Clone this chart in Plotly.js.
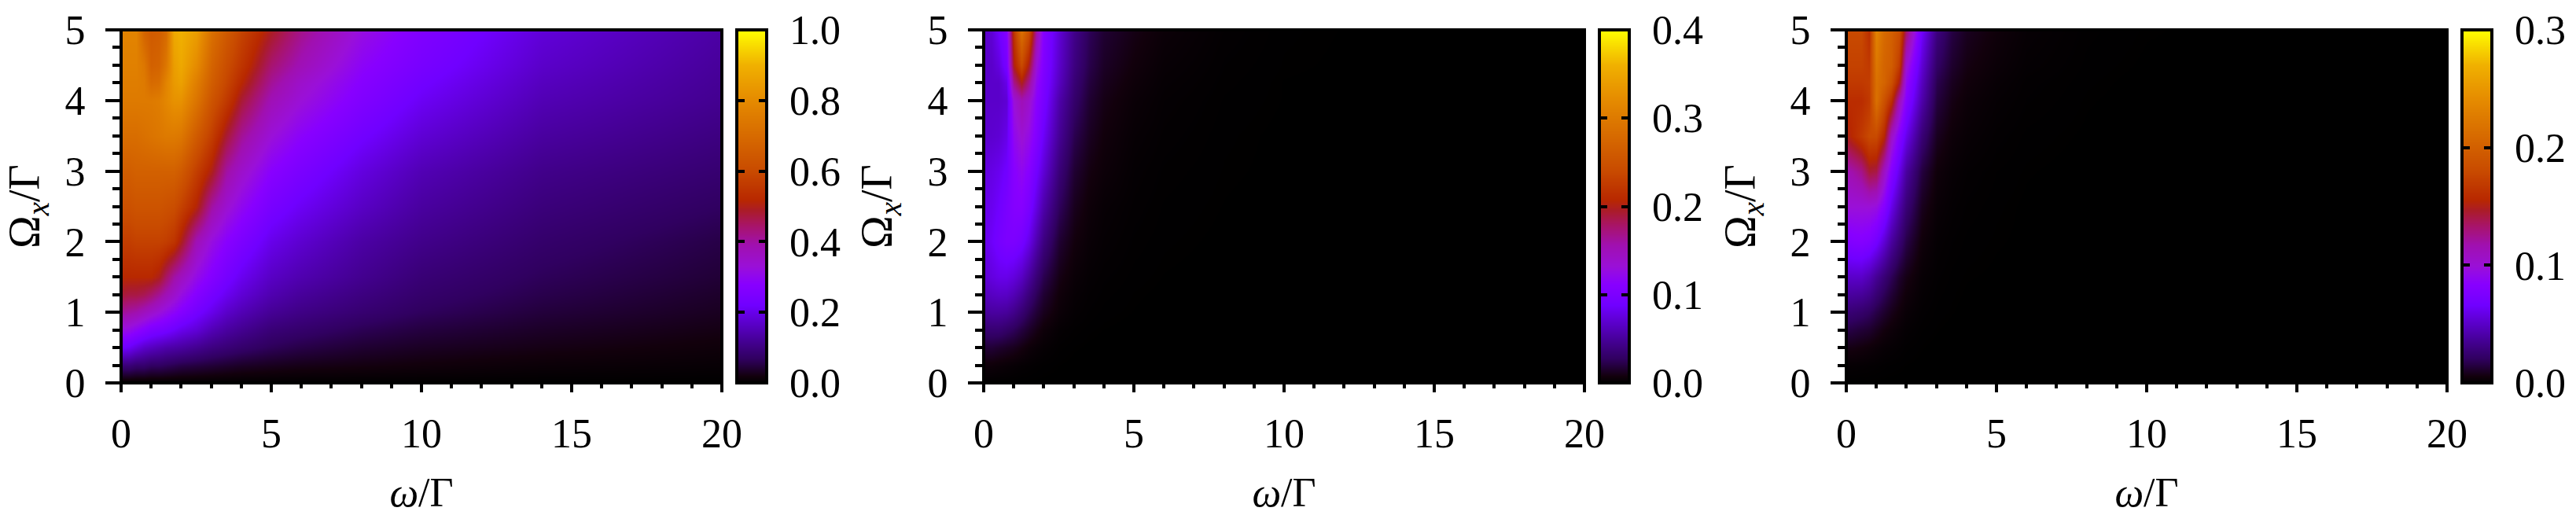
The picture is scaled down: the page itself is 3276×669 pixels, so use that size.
<!DOCTYPE html>
<html>
<head>
<meta charset="utf-8">
<script src="https://cdn.plot.ly/plotly-3.0.1.min.js"></script>
<style>
    html, body { margin: 0; padding: 0; background: white; }
</style>
</head>
<body>
<div id="chart" style="width:3276px;height:669px;"></div>
<script>
// grid the maps are sampled on
const omegaVals = [0, 0.25, 0.5, 0.75, 1, 1.25, 1.5, 1.75, 2, 2.5, 3, 3.5, 4, 5, 6, 8, 10, 14, 20];
const rabiVals = [0, 0.25, 0.5, 0.75, 1, 1.25, 1.5, 2, 2.5, 3, 3.5, 4, 4.25, 4.5, 5];

// left panel, rows run from rabi = 0 up to rabi = 5
const panel1Z = [
    [0, 0, 0, 0, 0, 0, 0, 0, 0, 0, 0, 0, 0, 0, 0, 0, 0, 0, 0],
    [.09, .09, .08, .08, .07, .07, .065, .06, .055, .05, .045, .04, .035, .03, .026, .022, .018, .012, .008],
    [.22, .21, .19, .17, .16, .15, .14, .135, .13, .115, .10, .09, .08, .065, .055, .042, .034, .025, .016],
    [.32, .31, .29, .27, .25, .24, .23, .215, .20, .18, .15, .13, .115, .09, .08, .062, .05, .036, .024],
    [.41, .40, .39, .37, .35, .33, .31, .29, .27, .23, .20, .17, .15, .12, .105, .085, .068, .048, .032],
    [.48, .47, .47, .46, .44, .41, .38, .35, .32, .27, .235, .205, .18, .145, .125, .10, .08, .058, .038],
    [.52, .52, .52, .52, .52, .50, .45, .40, .37, .31, .27, .235, .205, .165, .145, .115, .09, .066, .045],
    [.57, .57, .58, .58, .58, .58, .57, .55, .50, .38, .32, .28, .25, .20, .175, .135, .11, .08, .055],
    [.62, .62, .63, .63, .63, .63, .62, .61, .58, .51, .40, .34, .30, .24, .21, .165, .13, .095, .07],
    [.66, .66, .67, .67, .67, .67, .67, .67, .65, .57, .50, .40, .35, .28, .245, .19, .15, .11, .085],
    [.71, .71, .71, .72, .73, .74, .75, .75, .74, .65, .57, .48, .41, .33, .285, .225, .18, .13, .10],
    [.75, .75, .75, .75, .75, .76, .79, .82, .82, .73, .63, .56, .48, .38, .33, .26, .21, .15, .115],
    [.76, .76, .76, .75, .70, .71, .78, .84, .86, .76, .66, .59, .52, .41, .35, .275, .225, .16, .12],
    [.77, .77, .77, .74, .67, .68, .74, .85, .88, .80, .68, .61, .55, .44, .38, .29, .24, .17, .125],
    [.78, .78, .78, .68, .65, .66, .70, .88, .90, .85, .72, .65, .585, .495, .42, .32, .26, .185, .135]
];

// middle panel
const panel2Z = [
    [0, 0, 0, 0, 0, 0, 0, 0, 0, 0, 0, 0, 0, 0, 0, 0, 0, 0, 0],
    [.006, .006, .005, .004, .003, .002, .0015, .001, .0006, .0002, 0, 0, 0, 0, 0, 0, 0, 0, 0],
    [.018, .018, .016, .014, .012, .009, .006, .004, .0025, .0008, .0003, .0001, 0, 0, 0, 0, 0, 0, 0],
    [.034, .034, .034, .03, .026, .02, .015, .01, .006, .002, .0009, .0004, .0002, 0, 0, 0, 0, 0, 0],
    [.05, .052, .052, .05, .044, .035, .026, .018, .012, .005, .002, .001, .0005, .0002, 0, 0, 0, 0, 0],
    [.062, .065, .067, .066, .06, .05, .038, .026, .017, .007, .003, .0015, .0008, .0003, .0001, 0, 0, 0, 0],
    [.072, .076, .08, .08, .075, .066, .052, .036, .024, .01, .0045, .0022, .0012, .0005, .0002, 0, 0, 0, 0],
    [.08, .086, .094, .1, .1, .094, .08, .058, .04, .017, .008, .004, .0022, .0009, .0004, .0001, 0, 0, 0],
    [.08, .082, .088, .098, .108, .11, .098, .076, .056, .027, .012, .006, .0032, .0014, .0006, .0002, 0, 0, 0],
    [.076, .078, .082, .09, .11, .12, .11, .09, .072, .037, .017, .009, .0055, .002, .0009, .0003, .0001, 0, 0],
    [.07, .07, .072, .08, .12, .135, .125, .105, .085, .048, .024, .013, .0075, .003, .0014, .0004, .0001, 0, 0],
    [.068, .068, .068, .072, .132, .152, .14, .112, .096, .056, .032, .017, .01, .0045, .002, .0006, .0002, 0, 0],
    [.068, .068, .068, .08, .168, .2, .168, .12, .1, .064, .036, .02, .012, .006, .0026, .0008, .0002, 0, 0],
    [.068, .068, .076, .096, .2, .24, .2, .132, .104, .068, .04, .023, .014, .0075, .0034, .001, .0003, 0, 0],
    [.068, .072, .088, .108, .22, .29, .25, .16, .108, .072, .044, .026, .017, .01, .005, .0015, .0004, 0, 0]
];

// right panel
const panel3Z = [
    [0, 0, 0, 0, 0, 0, 0, 0, 0, 0, 0, 0, 0, 0, 0, 0, 0, 0, 0],
    [.0018, .0017, .0015, .0012, .0009, .0006, .0004, .0003, .00015, 0, 0, 0, 0, 0, 0, 0, 0, 0, 0],
    [.0075, .0069, .006, .0048, .0036, .0024, .0018, .0012, .0006, .0002, 0, 0, 0, 0, 0, 0, 0, 0, 0],
    [.0165, .015, .0135, .012, .009, .006, .0042, .0027, .0015, .0005, .0002, 0, 0, 0, 0, 0, 0, 0, 0],
    [.027, .0255, .024, .021, .0165, .012, .0084, .0054, .003, .001, .0004, .0002, 0, 0, 0, 0, 0, 0, 0],
    [.039, .038, .037, .033, .026, .019, .0135, .0085, .005, .0016, .0006, .0003, .0001, 0, 0, 0, 0, 0, 0],
    [.051, .051, .051, .045, .036, .027, .0195, .012, .0075, .0023, .0009, .0004, .0002, .0001, 0, 0, 0, 0, 0],
    [.078, .08, .081, .078, .069, .054, .039, .027, .0165, .005, .0016, .0008, .0004, .0002, .0001, 0, 0, 0, 0],
    [.099, .099, .099, .099, .096, .081, .06, .042, .027, .009, .003, .0014, .0007, .0003, .0001, 0, 0, 0, 0],
    [.114, .12, .126, .144, .141, .108, .081, .06, .039, .015, .005, .0024, .0012, .0005, .0002, 0, 0, 0, 0],
    [.15, .159, .168, .18, .18, .156, .108, .081, .06, .027, .0095, .0045, .0025, .001, .0004, .0001, 0, 0, 0],
    [.159, .159, .159, .168, .216, .186, .162, .114, .081, .042, .015, .0075, .004, .0018, .0008, .0002, 0, 0, 0],
    [.168, .168, .168, .171, .216, .204, .186, .15, .09, .048, .018, .0095, .0055, .0025, .001, .0003, 0, 0, 0],
    [.174, .174, .174, .168, .222, .204, .198, .17, .102, .054, .0225, .012, .007, .0035, .0015, .0004, .0001, 0, 0],
    [.18, .18, .18, .16, .234, .21, .2, .186, .135, .066, .03, .016, .0095, .005, .0022, .0006, .0002, 0, 0]
];

const xTicks = [0, 5, 10, 15, 20];
const yTicks = [0, 1, 2, 3, 4, 5];

// colour bar ranges and labels per panel
const barMax = [1.0, 0.4, 0.3];
const barTicks = [
    [0, 0.2, 0.4, 0.6, 0.8, 1.0],
    [0, 0.1, 0.2, 0.3, 0.4],
    [0, 0.1, 0.2, 0.3]
];
const barFractions = [0, 0.05, 0.1, 0.15, 0.2, 0.25, 0.3, 0.35, 0.4, 0.45, 0.5, 0.55, 0.6, 0.65, 0.7, 0.75, 0.8, 0.85, 0.9, 0.95, 1];

const palette = [
    [0, "#000000"], [0.02, "#12000c"], [0.07, "#300060"], [0.146, "#5000b0"],
    [0.22, "#7000ff"], [0.28, "#8800ff"], [0.33, "#9a10d8"], [0.39, "#a010b0"],
    [0.445, "#a8146a"], [0.49, "#aa1c28"], [0.52, "#b82800"], [0.6, "#c84a00"],
    [0.8, "#e58a00"], [0.9, "#f0b000"], [1, "#ffff00"]
];

// pixel boxes: map left/right and colour bar left/right
const W = 3276, H = 669;
const mapLeft = [154, 1251, 2348];
const mapRight = [918, 2015, 3112];
const barLeft = [937, 2034, 3131];
const barRight = [975, 2072, 3169];
const plotTop = 38, plotBottom = 487;

const FONT = "Liberation Serif";
const zData = [panel1Z, panel2Z, panel3Z];
const yDomain = [1 - plotBottom / H, 1 - plotTop / H];

const traces = [];
const layout = {
    width: W, height: H,
    paper_bgcolor: "white",
    plot_bgcolor: "white",
    margin: { t: 0, l: 0, r: 0, b: 0 },
    font: { family: FONT, color: "black", size: 52 },
    showlegend: false,
    shapes: []
};

function frame(xn, yn) {
    return {
        type: "rect", xref: xn + " domain", yref: yn + " domain",
        x0: 0, x1: 1, y0: 0, y1: 1,
        line: { color: "black", width: 4 }, layer: "above"
    };
}

zData.forEach((z, i) => {
    const xMap = "x" + (2 * i + 1), yMap = "y" + (2 * i + 1);
    const xBar = "x" + (2 * i + 2), yBar = "y" + (2 * i + 2);
    const suffix = n => (n === 1 ? "" : n);

    // the map
    traces.push({
        type: "heatmap", x: omegaVals, y: rabiVals, z: z,
        xaxis: xMap, yaxis: yMap,
        colorscale: palette, zmin: 0, zmax: barMax[i],
        zsmooth: "best", showscale: false, hoverinfo: "skip"
    });

    // the colour bar is its own small heatmap
    traces.push({
        type: "heatmap", x: [0, 1],
        y: barFractions.map(f => f * barMax[i]),
        z: barFractions.map(f => [f * barMax[i], f * barMax[i]]),
        xaxis: xBar, yaxis: yBar,
        colorscale: palette, zmin: 0, zmax: barMax[i],
        zsmooth: "best", showscale: false, hoverinfo: "skip"
    });

    layout["xaxis" + suffix(2 * i + 1)] = {
        domain: [mapLeft[i] / W, mapRight[i] / W], anchor: yMap,
        range: [0, 20], showgrid: false, zeroline: false, showline: false,
        tickmode: "array", tickvals: xTicks, ticktext: xTicks.map(String),
        ticks: "outside", ticklen: 11, tickwidth: 4, tickcolor: "black",
        minor: { dtick: 1, tick0: 0, ticks: "outside", ticklen: 6, tickwidth: 4, tickcolor: "black", showgrid: false },
        tickfont: { family: FONT, size: 52 }, ticklabelstandoff: 8,
        title: { text: "<i>ω</i>/Γ", font: { family: FONT, size: 52 }, standoff: 28 }
    };
    layout["yaxis" + suffix(2 * i + 1)] = {
        domain: yDomain, anchor: xMap,
        range: [0, 5], showgrid: false, zeroline: false, showline: false,
        tickmode: "array", tickvals: yTicks, ticktext: yTicks.map(String),
        ticks: "outside", ticklen: 19, tickwidth: 4, tickcolor: "black",
        minor: { dtick: 0.25, tick0: 0, ticks: "outside", ticklen: 10, tickwidth: 4, tickcolor: "black", showgrid: false },
        tickfont: { family: FONT, size: 52 }, ticklabelstandoff: 15,
        title: { text: "Ω<sub><i>x</i></sub>/Γ", font: { family: FONT, size: 56 }, standoff: 26 }
    };
    layout["xaxis" + suffix(2 * i + 2)] = {
        domain: [barLeft[i] / W, barRight[i] / W], anchor: yBar,
        range: [0, 1], showgrid: false, zeroline: false, showline: false,
        showticklabels: false, ticks: ""
    };
    layout["yaxis" + suffix(2 * i + 2)] = {
        domain: yDomain, anchor: xBar, side: "right",
        range: [0, barMax[i]], showgrid: false, zeroline: false, showline: false,
        tickmode: "array", tickvals: barTicks[i], ticktext: barTicks[i].map(v => v.toFixed(1)),
        ticks: "inside", ticklen: 10, tickwidth: 4, tickcolor: "black", mirror: "ticks",
        tickfont: { family: FONT, size: 52 }, ticklabelstandoff: 28
    };

    layout.shapes.push(frame(xMap, yMap), frame(xBar, yBar));
});

Plotly.newPlot("chart", traces, layout, { staticPlot: true, displayModeBar: false });
</script>
</body>
</html>
